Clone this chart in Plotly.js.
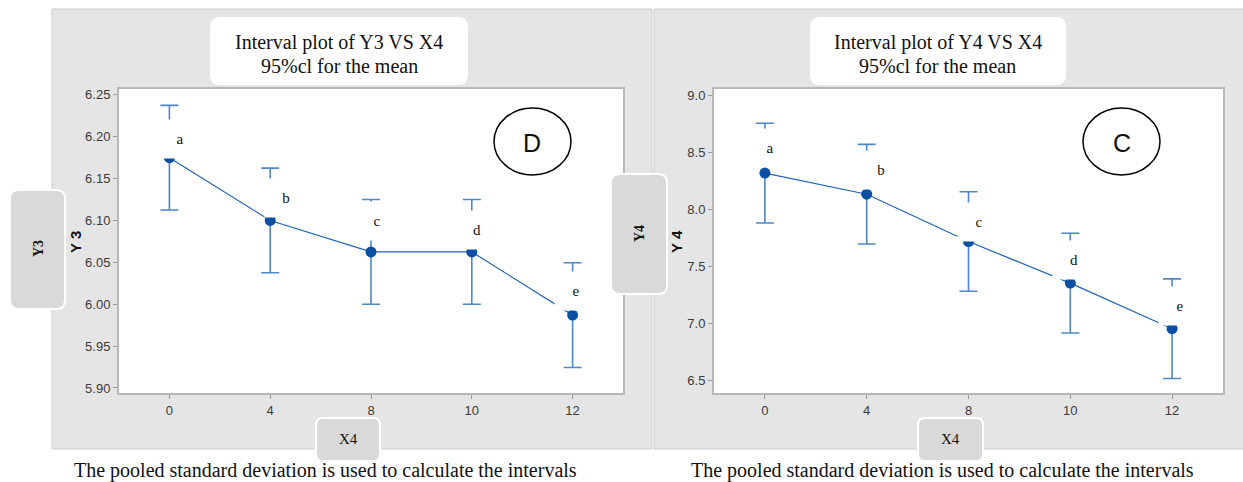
<!DOCTYPE html>
<html>
<head>
<meta charset="utf-8">
<script src="https://cdn.plot.ly/plotly-3.0.1.min.js"></script>
<style>html,body{margin:0;padding:0;background:#fff;}#chart{width:1243px;height:482px;}</style>
</head>
<body>
<div id="chart"></div>
<script>
// ---- data ----
const categories = ['0', '4', '8', '10', '12'];
const y3Mean = [6.175, 6.100, 6.0625, 6.0625, 5.987];
const y3Err = [0.0625, 0.0625, 0.0625, 0.0625, 0.0625];
const y4Mean = [8.315, 8.130, 7.715, 7.350, 6.950];
const y4Err = [0.437, 0.437, 0.437, 0.437, 0.437];
const groupLetters = ['a', 'b', 'c', 'd', 'e'];
const y3TickVals = [5.90, 5.95, 6.00, 6.05, 6.10, 6.15, 6.20, 6.25];
const y4TickVals = [6.5, 7.0, 7.5, 8.0, 8.5, 9.0];

// ---- layout helpers (pixel -> paper) ----
const W = 1243, H = 482;
const PX = p => p / W;
const PY = p => 1 - p / H;
function rrect(x0, y0, x1, y1, r) {
  const f = (x, y) => PX(x) + ',' + PY(y);
  return 'M' + f(x0 + r, y0) + ' L' + f(x1 - r, y0) + ' Q' + f(x1, y0) + ' ' + f(x1, y0 + r) +
    ' L' + f(x1, y1 - r) + ' Q' + f(x1, y1) + ' ' + f(x1 - r, y1) +
    ' L' + f(x0 + r, y1) + ' Q' + f(x0, y1) + ' ' + f(x0, y1 - r) +
    ' L' + f(x0, y0 + r) + ' Q' + f(x0, y0) + ' ' + f(x0 + r, y0) + ' Z';
}

const lineColor = '#1f62b8';
const markerColor = '#0a4fa3';
const errColor = '#4f86c6';

function trace(yvals, errs, xa, ya) {
  return {
    type: 'scatter', mode: 'lines+markers', x: categories, y: yvals,
    xaxis: xa, yaxis: ya,
    line: {color: lineColor, width: 1.2},
    marker: {color: markerColor, size: 11},
    error_y: {type: 'data', array: errs, visible: true, color: errColor, thickness: 1.6, width: 9},
    hoverinfo: 'skip', showlegend: false
  };
}

const data = [trace(y3Mean, y3Err, 'x', 'y'), trace(y4Mean, y4Err, 'x2', 'y2')];

const tickFont = {family: 'Liberation Sans, Arial, sans-serif', size: 13, color: '#3a3a3a'};
function xax(domain) {
  return {
    domain: domain, type: 'category', range: [-0.5, 4.5], tickvals: categories,
    ticks: 'outside', ticklen: 4, tickcolor: '#9a9a9a', tickwidth: 1,
    showline: true, linecolor: '#b8b8b8', linewidth: 2, mirror: true,
    showgrid: false, zeroline: false, tickfont: tickFont, fixedrange: true
  };
}
function yax(domain, range, tv, fmt, anchor) {
  return {
    domain: domain, range: range, tickvals: tv, tickformat: fmt, anchor: anchor,
    ticks: 'outside', ticklen: 4, tickcolor: '#9a9a9a', tickwidth: 1,
    showline: true, linecolor: '#b8b8b8', linewidth: 2, mirror: true,
    showgrid: false, zeroline: false, tickfont: tickFont, fixedrange: true
  };
}

const serif = 'Liberation Serif, Times New Roman, serif';
const sans = 'Liberation Sans, Arial, sans-serif';

const shapes = [
  // gray panels
  {type: 'rect', xref: 'paper', yref: 'paper', x0: PX(52), x1: PX(652), y0: PY(449), y1: PY(9),
    fillcolor: '#e5e5e5', line: {color: '#cdcdcd', width: 1}, layer: 'below'},
  {type: 'rect', xref: 'paper', yref: 'paper', x0: PX(654), x1: PX(1244), y0: PY(449), y1: PY(9),
    fillcolor: '#e5e5e5', line: {color: '#cdcdcd', width: 1}, layer: 'below'},
  // white plot areas
  {type: 'rect', xref: 'paper', yref: 'paper', x0: PX(119), x1: PX(623), y0: PY(393), y1: PY(89),
    fillcolor: '#ffffff', line: {width: 0}, layer: 'below'},
  {type: 'rect', xref: 'paper', yref: 'paper', x0: PX(714), x1: PX(1223), y0: PY(393), y1: PY(89),
    fillcolor: '#ffffff', line: {width: 0}, layer: 'below'},
  // title boxes
  {type: 'path', xref: 'paper', yref: 'paper', path: rrect(210, 17, 468, 85, 10), fillcolor: '#ffffff', line: {width: 0}, layer: 'above'},
  {type: 'path', xref: 'paper', yref: 'paper', path: rrect(810, 17, 1066, 85, 10), fillcolor: '#ffffff', line: {width: 0}, layer: 'above'},
  // y label boxes
  {type: 'path', xref: 'paper', yref: 'paper', path: rrect(10, 190, 65, 309, 9), fillcolor: '#d9d9d9', line: {color: '#ffffff', width: 2}, layer: 'above'},
  {type: 'path', xref: 'paper', yref: 'paper', path: rrect(611, 174, 667, 294, 9), fillcolor: '#d9d9d9', line: {color: '#ffffff', width: 2}, layer: 'above'},
  // x label boxes
  {type: 'path', xref: 'paper', yref: 'paper', path: rrect(316, 418, 380, 461, 7), fillcolor: '#d9d9d9', line: {color: '#ffffff', width: 2}, layer: 'above'},
  {type: 'path', xref: 'paper', yref: 'paper', path: rrect(918, 418, 983, 461, 7), fillcolor: '#d9d9d9', line: {color: '#ffffff', width: 2}, layer: 'above'},
  // ellipses
  {type: 'circle', xref: 'paper', yref: 'paper', x0: PX(494), x1: PX(571), y0: PY(175), y1: PY(108), line: {color: '#000', width: 1.5}, layer: 'above'},
  {type: 'circle', xref: 'paper', yref: 'paper', x0: PX(1083), x1: PX(1160), y0: PY(175), y1: PY(108), line: {color: '#000', width: 1.5}, layer: 'above'}
];

const ann = [];
function txt(x, y, text, font, extra) {
  ann.push(Object.assign({xref: 'paper', yref: 'paper', x: PX(x), y: PY(y), text: text, showarrow: false,
    font: font, xanchor: 'center', yanchor: 'middle'}, extra || {}));
}
const titleFont = {family: serif, size: 20, color: '#111'};
txt(339, 42, 'Interval plot of Y3 VS X4', titleFont);
txt(339, 66, '95%cl for the mean', titleFont);
txt(938, 42, 'Interval plot of Y4 VS X4', titleFont);
txt(938, 66, '95%cl for the mean', titleFont);
txt(532, 143, 'D', {family: sans, size: 25, color: '#111'});
txt(1122, 143, 'C', {family: sans, size: 25, color: '#111'});
txt(38, 249, '<b>Y3</b>', {family: serif, size: 14, color: '#111'}, {textangle: -90});
txt(639, 234, '<b>Y4</b>', {family: serif, size: 14, color: '#111'}, {textangle: -90});
txt(75, 242, '<b>Y 3</b>', {family: sans, size: 15, color: '#111'}, {textangle: -90});
txt(676, 242, '<b>Y 4</b>', {family: sans, size: 15, color: '#111'}, {textangle: -90});
txt(348, 439, 'X4', {family: serif, size: 15, color: '#111'});
txt(950, 439, 'X4', {family: serif, size: 15, color: '#111'});
const noteFont = {family: serif, size: 20, color: '#111'};
txt(325, 470, 'The pooled standard deviation is used to calculate the intervals', noteFont);
txt(942, 470, 'The pooled standard deviation is used to calculate the intervals', noteFont);

// letter boxes (white background masks part of the interval bars)
const shiftX1 = [11, 16, 6, 5, 3];
const shiftY1 = [19, 22, 31, 22, 24];
const shiftX2 = [5, 14, 10, 4, 8];
const shiftY2 = [25, 24, 20, 23, 23];
const letterFont = {family: serif, size: 15, color: '#111'};
groupLetters.forEach((L, i) => {
  ann.push({xref: 'x', yref: 'y', x: i, y: y3Mean[i], xshift: shiftX1[i], yshift: shiftY1[i],
    text: L, showarrow: false, font: letterFont, bgcolor: '#ffffff', width: 42, height: 38, borderpad: 0,
    xanchor: 'center', yanchor: 'middle'});
  ann.push({xref: 'x2', yref: 'y2', x: i, y: y4Mean[i], xshift: shiftX2[i], yshift: shiftY2[i],
    text: L, showarrow: false, font: letterFont, bgcolor: '#ffffff', width: 42, height: 38, borderpad: 0,
    xanchor: 'center', yanchor: 'middle'});
});

const layout = {
  width: W, height: H, margin: {l: 0, r: 0, t: 0, b: 0},
  paper_bgcolor: '#ffffff', plot_bgcolor: 'rgba(0,0,0,0)', showlegend: false,
  xaxis: Object.assign(xax([PX(119), PX(623)]), {anchor: 'y'}),
  yaxis: yax([PY(393), PY(89)], [5.894, 6.257], y3TickVals, '.2f', 'x'),
  xaxis2: Object.assign(xax([PX(714), PX(1223)]), {anchor: 'y2'}),
  yaxis2: yax([PY(393), PY(89)], [6.386, 9.053], y4TickVals, '.1f', 'x2'),
  shapes: shapes, annotations: ann
};

Plotly.newPlot('chart', data, layout, {staticPlot: true, displayModeBar: false});
</script>
</body>
</html>
